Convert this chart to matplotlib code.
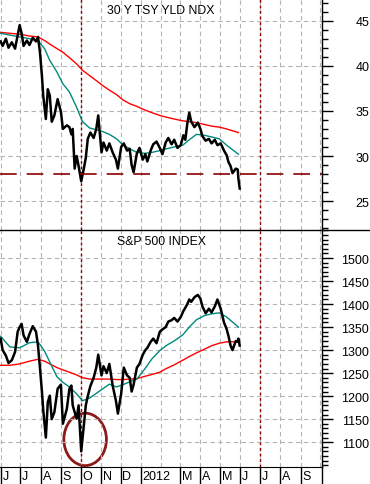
import matplotlib
matplotlib.use("Agg")
import matplotlib.pyplot as plt
import matplotlib.dates as mdates
from matplotlib.patches import Ellipse
from matplotlib.lines import Line2D
import pandas as pd

plt.rcParams['font.family'] = ['Liberation Sans', 'DejaVu Sans']

# price dates (shared by both panels)
dates = ['2011-06-01', '2011-06-04', '2011-06-09', '2011-06-13', '2011-06-18', '2011-06-23',
         '2011-06-27', '2011-06-30', '2011-07-03', '2011-07-06', '2011-07-11', '2011-07-15',
         '2011-07-20', '2011-07-25', '2011-07-28', '2011-07-31', '2011-08-03', '2011-08-05',
         '2011-08-09', '2011-08-12', '2011-08-15', '2011-08-18', '2011-08-22', '2011-08-27',
         '2011-09-01', '2011-09-04', '2011-09-10', '2011-09-14', '2011-09-17', '2011-09-19',
         '2011-09-22', '2011-09-25', '2011-09-28', '2011-10-02', '2011-10-06', '2011-10-09',
         '2011-10-12', '2011-10-16', '2011-10-21', '2011-10-25', '2011-10-28', '2011-11-02',
         '2011-11-05', '2011-11-10', '2011-11-14', '2011-11-19', '2011-11-24', '2011-11-27',
         '2011-12-02', '2011-12-06', '2011-12-11', '2011-12-15', '2011-12-18', '2011-12-21',
         '2011-12-26', '2011-12-30', '2012-01-04', '2012-01-08', '2012-01-11', '2012-01-16',
         '2012-01-20', '2012-01-25', '2012-01-30', '2012-02-03', '2012-02-08', '2012-02-12',
         '2012-02-17', '2012-02-21', '2012-02-26', '2012-03-02', '2012-03-06', '2012-03-09',
         '2012-03-12', '2012-03-15', '2012-03-18', '2012-03-23', '2012-03-28', '2012-04-01',
         '2012-04-04', '2012-04-09', '2012-04-14', '2012-04-18', '2012-04-23', '2012-04-27',
         '2012-05-02', '2012-05-07', '2012-05-11', '2012-05-14', '2012-05-17', '2012-05-20',
         '2012-05-25', '2012-05-28', '2012-05-29', '2012-05-31']

tsy = [42.7, 42.2, 43.0, 42.0, 42.6, 41.9, 43.4, 44.5, 43.6, 42.2, 42.8, 42.3,
       43.1, 42.7, 43.2, 41.5, 38.9, 36.7, 34.1, 37.4, 36.7, 33.8, 34.5, 36.3,
       34.9, 33.0, 33.4, 33.2, 32.4, 33.0, 28.6, 30.0, 28.9, 27.2, 28.6, 29.8,
       31.9, 32.6, 32.0, 33.0, 34.5, 30.4, 31.5, 30.6, 31.4, 30.4, 29.6, 28.6,
       31.0, 31.4, 30.6, 30.8, 29.0, 28.2, 30.3, 30.9, 29.6, 30.2, 29.4, 30.6,
       31.3, 31.6, 30.9, 30.2, 31.5, 32.0, 31.3, 31.8, 30.9, 31.2, 32.3, 31.8,
       33.6, 34.8, 33.8, 33.2, 33.7, 33.0, 32.2, 31.7, 31.9, 31.4, 31.8, 31.2,
       31.4, 30.6, 30.1, 29.3, 28.9, 28.1, 28.6, 28.5, 27.5, 26.4]

spx = [1325, 1300, 1288, 1272, 1278, 1296, 1340, 1350, 1357, 1332, 1318, 1335,
       1352, 1340, 1310, 1262, 1210, 1170, 1110, 1187, 1201, 1150, 1165, 1216,
       1225, 1140, 1172, 1216, 1223, 1180, 1165, 1151, 1180, 1080, 1136, 1180,
       1200, 1222, 1240, 1262, 1290, 1245, 1265, 1250, 1270, 1223, 1190, 1162,
       1205, 1262, 1245, 1240, 1210, 1225, 1262, 1270, 1290, 1300, 1305, 1318,
       1325, 1315, 1340, 1345, 1350, 1362, 1365, 1370, 1362, 1372, 1385, 1392,
       1400, 1410, 1405, 1415, 1420, 1412, 1395, 1380, 1390, 1382, 1395, 1410,
       1390, 1360, 1346, 1330, 1310, 1300, 1320, 1318, 1325, 1310]

# moving averages
ma_dates = ['2011-06-01', '2011-06-15', '2011-06-30', '2011-07-15', '2011-07-28', '2011-08-07',
            '2011-08-15', '2011-08-26', '2011-09-04', '2011-09-14', '2011-09-25', '2011-10-04',
            '2011-10-15', '2011-10-26', '2011-11-04', '2011-11-14', '2011-11-25', '2011-12-05',
            '2011-12-15', '2011-12-26', '2012-01-07', '2012-01-18', '2012-01-30', '2012-02-09',
            '2012-02-21', '2012-03-05', '2012-03-15', '2012-03-26', '2012-04-07', '2012-04-19',
            '2012-04-30', '2012-05-11', '2012-05-20', '2012-05-29']

tsy_ma50 = [43.6, 43.4, 43.2, 43.0, 42.8, 41.9, 40.6, 39.3, 38.0, 37.1, 35.4, 33.8,
            33.1, 32.9, 32.7, 32.4, 31.9, 31.2, 30.8, 30.4, 30.3, 30.4, 30.6, 30.8,
            31.0, 31.2, 31.8, 32.4, 32.3, 32.1, 31.9, 31.2, 30.7, 30.2]
tsy_ma200 = [43.7, 43.6, 43.5, 43.3, 43.2, 42.8, 42.4, 41.9, 41.5, 40.9, 40.2, 39.5,
             38.9, 38.3, 37.8, 37.3, 36.8, 36.2, 35.8, 35.5, 35.1, 34.8, 34.5, 34.3,
             34.1, 33.9, 33.8, 33.7, 33.5, 33.3, 33.2, 33.0, 32.8, 32.6]
spx_ma50 = [1330, 1307, 1305, 1316, 1318, 1298, 1274, 1242, 1230, 1220, 1205, 1190,
            1196, 1207, 1216, 1226, 1220, 1225, 1231, 1237, 1259, 1281, 1299, 1310,
            1320, 1333, 1350, 1366, 1375, 1379, 1381, 1372, 1361, 1350]
spx_ma200 = [1267, 1267, 1270, 1276, 1280, 1276, 1270, 1262, 1257, 1252, 1246, 1240,
             1237, 1237, 1237, 1237, 1236, 1236, 1237, 1238, 1243, 1247, 1252, 1260,
             1268, 1278, 1286, 1294, 1302, 1310, 1315, 1318, 1318, 1318]

month_labels = ['J', 'J', 'A', 'S', 'O', 'N', 'D', '2012', '', 'M', 'A', 'M', 'J', 'J', 'A', 'S']
tsy_support = 28.0

d = pd.to_datetime(dates)
md = pd.to_datetime(ma_dates)
months = pd.date_range('2011-06-01', '2012-09-01', freq='MS')
xmin, xmax = pd.Timestamp('2011-05-31'), pd.Timestamp('2012-10-03 16:00')
marks = [pd.Timestamp('2011-10-01'), pd.Timestamp('2012-07-01')]

W, H = 370, 485
fig = plt.figure(figsize=(W / 100, H / 100), dpi=100)
ax1 = fig.add_axes([0, 254 / H, 322 / W, 231 / H])
ax2 = fig.add_axes([0, 17 / H, 322 / W, 237 / H])
ax3 = fig.add_axes([0, 0, 322 / W, 17 / H])

grid_kw = dict(color='#b4b4b4', lw=0.8, ls=(0, (4, 3)))
dark = '#8b0000'


def style(ax, ylim, ticks, minor, title):
    ax.set_xlim(xmin, xmax)
    ax.set_ylim(*ylim)
    ax.xaxis.set_major_locator(mdates.MonthLocator())
    ax.tick_params(axis='x', length=0, labelbottom=False)
    ax.yaxis.set_major_locator(plt.FixedLocator(ticks))
    ax.yaxis.set_minor_locator(plt.MultipleLocator(minor))
    ax.yaxis.tick_right()
    ax.tick_params(axis='y', which='major', length=8, width=1, direction='out', pad=26, labelsize=9)
    ax.tick_params(axis='y', which='minor', length=4, width=1, direction='out')
    ax.grid(True, which='major', **grid_kw)
    for s in ['left', 'top', 'bottom']:
        ax.spines[s].set_visible(False)
    ax.spines['right'].set_linewidth(1)
    ax.text(0.5, 0.978, title, transform=ax.transAxes, ha='center', va='top', fontsize=8.8)
    for m in marks:
        ax.axvline(m, color=dark, lw=1, ls=(0, (2, 2)))


# treasury yield panel
style(ax1, (21.8, 47.4), [25, 30, 35, 40, 45], 1, '30 Y TSY YLD NDX')
ax1.plot(md, tsy_ma200, color='#ff0000', lw=1)
ax1.plot(md, tsy_ma50, color='#00897b', lw=1)
ax1.plot(d, tsy, color='black', lw=1.8)
ax1.axhline(tsy_support, color=dark, lw=1.2, ls=(0, (10, 6)))

# S&P panel
style(ax2, (1046, 1561), list(range(1100, 1550, 50)), 10, 'S&P 500 INDEX')
ax2.plot(md, spx_ma200, color='#ff0000', lw=1)
ax2.plot(md, spx_ma50, color='#00897b', lw=1)
ax2.plot(d, spx, color='black', lw=1.8)
ax2.spines['bottom'].set_visible(True)
ax2.add_patch(Ellipse((mdates.date2num(pd.Timestamp('2011-10-08')), 1106),
                      width=65, height=114, fill=False, ec='#8b1a1a', lw=2))

# month label row
ax3.set_xlim(xmin, xmax)
ax3.set_ylim(0, 1)
ax3.axis('off')
ax3.axvline(xmax, color='black', lw=1, clip_on=False)
for m, lab in zip(months, month_labels):
    if lab:
        ax3.axvline(m, color='black', lw=1)
        ax3.text(m + pd.Timedelta(days=3), 0.45, lab, ha='left', va='center', fontsize=9)

fig.add_artist(Line2D([0, 1], [254 / H, 254 / H], color='black', lw=1))

# right-align the value labels on the right axis
fig.canvas.draw()
for ax in (ax1, ax2):
    for lab in ax.get_yticklabels():
        lab.set_horizontalalignment('right')

fig.savefig('out.png', dpi=100)
